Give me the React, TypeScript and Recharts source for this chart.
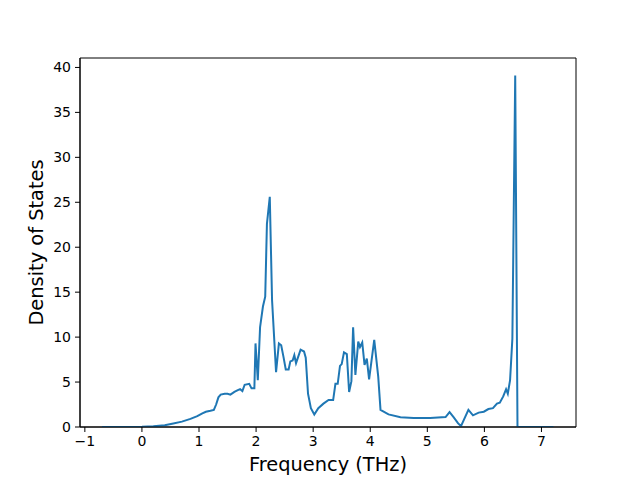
import React from "react";
import { LineChart, Line, XAxis, YAxis, Label, ReferenceArea } from "recharts";

const freq = [
  -0.7, -0.3, 0.0, 0.2, 0.4, 0.55, 0.7, 0.85, 0.97, 1.05, 1.12, 1.2, 1.26, 1.3, 1.34, 1.38, 1.45, 1.5, 1.55,
  1.62, 1.68, 1.72, 1.76, 1.8, 1.88, 1.92, 1.97, 1.99, 2.03, 2.07, 2.12, 2.16, 2.19, 2.24, 2.28, 2.35, 2.4,
  2.44, 2.48, 2.52, 2.57, 2.6, 2.64, 2.67, 2.7, 2.78, 2.84, 2.87, 2.91, 2.96, 3.02, 3.09, 3.18, 3.27, 3.35,
  3.39, 3.43, 3.47, 3.5, 3.54, 3.59, 3.63, 3.67, 3.7, 3.74, 3.79, 3.82, 3.86, 3.9, 3.94, 3.98, 4.07, 4.14,
  4.18, 4.32, 4.53, 4.76, 5.05, 5.32, 5.39, 5.46, 5.54, 5.59, 5.72, 5.8, 5.9, 5.99, 6.07, 6.15, 6.22, 6.27,
  6.33, 6.38, 6.41, 6.45, 6.49, 6.54, 6.58, 7.21,
];
const dos = [
  0, 0, 0.02, 0.08, 0.2, 0.4, 0.6, 0.9, 1.2, 1.5, 1.7, 1.8, 1.9, 2.5, 3.3, 3.6, 3.7, 3.7, 3.6,
  3.9, 4.1, 4.2, 4.0, 4.7, 4.8, 4.3, 4.3, 9.3, 5.2, 11.1, 13.4, 14.5, 22.6, 25.6, 14.1, 6.1, 9.3,
  9.1, 7.8, 6.4, 6.4, 7.3, 7.4, 8.0, 7.1, 8.6, 8.4, 7.7, 3.7, 2.1, 1.4, 2.1, 2.6, 3.0, 3.0,
  4.8, 4.8, 6.8, 7.0, 8.3, 8.1, 3.9, 5.1, 11.1, 5.8, 9.5, 8.9, 9.4, 6.9, 7.6, 5.3, 9.7, 5.6,
  1.9, 1.4, 1.08, 1.0, 1.0, 1.1, 1.65, 1.1, 0.4, 0.1, 1.9, 1.3, 1.6, 1.7, 2.0, 2.1, 2.6, 2.7,
  3.4, 4.2, 3.7, 5.2, 9.8, 39.1, 0, 0,
];
const xTicks = [-1, 0, 1, 2, 3, 4, 5, 6, 7];
const yTicks = [0, 5, 10, 15, 20, 25, 30, 35, 40];
const xDomain: [number, number] = [-1.085, 7.605];
const yDomain: [number, number] = [0, 41.05];

const data = freq.map((f, i) => ({ freq: f, dos: dos[i] }));

const FONT = "DejaVu Sans";
const fmt = (v: number) => String(v).replace("-", "\u2212");

export default function App() {
  return (
    <div style={{ position: "absolute", left: 0, top: 0, width: 640, height: 480, background: "#fff" }}>
      <LineChart width={640} height={480} data={data} margin={{ top: 58, right: 64, bottom: 0, left: 20 }}>
        <XAxis
          dataKey="freq"
          type="number"
          domain={xDomain}
          allowDataOverflow
          ticks={xTicks}
          interval={0}
          height={53}
          tickSize={5}
          tickMargin={4}
          tickFormatter={fmt}
          stroke="#000"
          tick={{ fill: "#000", fontSize: 14, fontFamily: FONT }}
          axisLine={{ stroke: "#000", strokeWidth: 1 }}
          tickLine={{ stroke: "#000" }}
        >
          <Label
            value="Frequency (THz)"
            position="insideBottom"
            offset={9}
            style={{ fontSize: 19.4, fontFamily: FONT, fill: "#000" }}
          />
        </XAxis>
        <YAxis
          type="number"
          domain={yDomain}
          allowDataOverflow
          ticks={yTicks}
          interval={0}
          width={60}
          tickSize={5}
          tickMargin={4}
          stroke="#000"
          tick={{ fill: "#000", fontSize: 14, fontFamily: FONT }}
          axisLine={{ stroke: "#000", strokeWidth: 1 }}
          tickLine={{ stroke: "#000" }}
        >
          <Label
            content={() => (
              <text
                x={36}
                y={242.5}
                transform="rotate(-90 36 242.5)"
                textAnchor="middle"
                dominantBaseline="central"
                style={{ fontSize: 19.4, fontFamily: FONT, fill: "#000" }}
              >
                Density of States
              </text>
            )}
          />
        </YAxis>
        <ReferenceArea
          x1={xDomain[0]}
          x2={xDomain[1]}
          y1={yDomain[0]}
          y2={yDomain[1]}
          fill="none"
          fillOpacity={0}
          stroke="#000"
          strokeWidth={1}
          ifOverflow="visible"
        />
        <Line
          type="linear"
          dataKey="dos"
          stroke="#1f77b4"
          strokeWidth={2}
          dot={false}
          isAnimationActive={false}
        />
      </LineChart>
    </div>
  );
}
